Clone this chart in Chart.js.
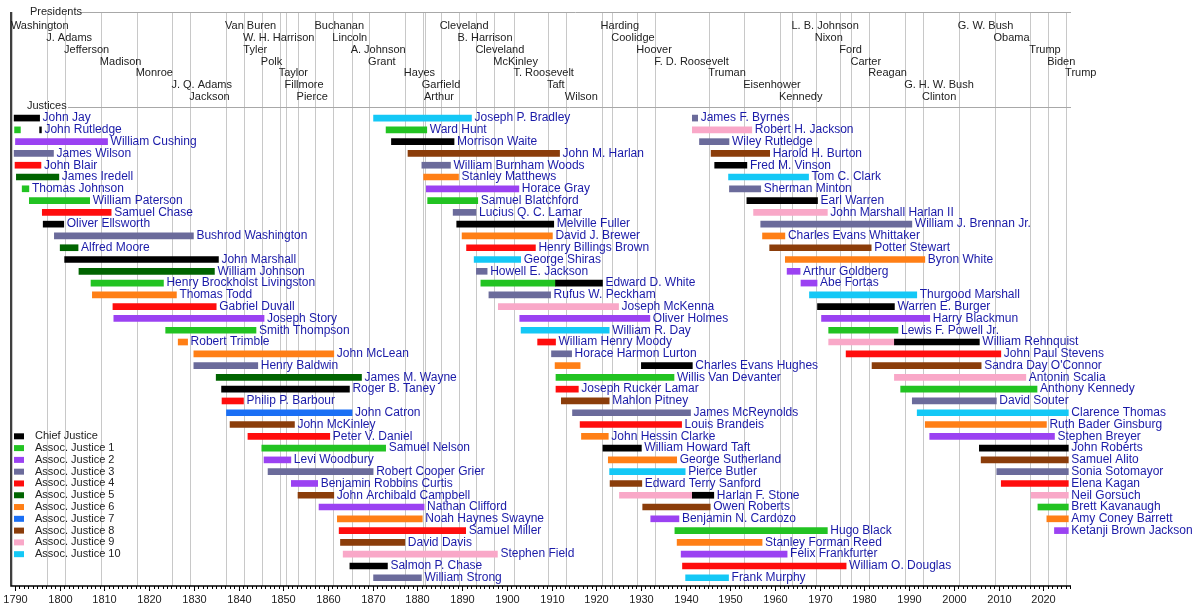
<!DOCTYPE html>
<html>
<head>
<meta charset="utf-8">
<script src="https://cdn.jsdelivr.net/npm/chart.js@4"></script>
<style>
  html, body { margin:0; padding:0; background:#fff; }
  #wrap { width:1200px; height:606px; }
</style>
</head>
<body>
<div id="wrap"><canvas id="chart" width="1200" height="606"></canvas></div>
<script>
// Supreme Court justices timeline
// seat: 0 = chief, 1..10 = assoc. justice seat

const seatLabels = ["Chief Justice","Assoc. Justice 1","Assoc. Justice 2","Assoc. Justice 3","Assoc. Justice 4",
  "Assoc. Justice 5","Assoc. Justice 6","Assoc. Justice 7","Assoc. Justice 8","Assoc. Justice 9","Assoc. Justice 10"];
const seatColors = ["#000000","#22c322","#9b42f2","#6b6b9b","#ff0d0d","#006400","#ff7f16","#1a6ff5","#8b3d0a","#f9a8c8","#14c8f6"];

const justiceNames = [
  "John Jay","John Rutledge","William Cushing","James Wilson","John Blair","James Iredell","Thomas Johnson","William Paterson",
  "Samuel Chase","Oliver Ellsworth","Bushrod Washington","Alfred Moore","John Marshall","William Johnson",
  "Henry Brockholst Livingston","Thomas Todd","Gabriel Duvall","Joseph Story","Smith Thompson","Robert Trimble",
  "John McLean","Henry Baldwin","James M. Wayne","Roger B. Taney","Philip P. Barbour","John Catron","John McKinley",
  "Peter V. Daniel","Samuel Nelson","Levi Woodbury","Robert Cooper Grier","Benjamin Robbins Curtis",
  "John Archibald Campbell","Nathan Clifford","Noah Haynes Swayne","Samuel Miller","David Davis","Stephen Field",
  "Salmon P. Chase","William Strong",
  "Joseph P. Bradley","Ward Hunt","Morrison Waite","John M. Harlan","William Burnham Woods","Stanley Matthews",
  "Horace Gray","Samuel Blatchford","Lucius Q. C. Lamar","Melville Fuller","David J. Brewer","Henry Billings Brown",
  "George Shiras","Howell E. Jackson","Edward D. White","Rufus W. Peckham","Joseph McKenna","Oliver Holmes",
  "William R. Day","William Henry Moody","Horace Harmon Lurton","Charles Evans Hughes","Willis Van Devanter",
  "Joseph Rucker Lamar","Mahlon Pitney","James McReynolds","Louis Brandeis","John Hessin Clarke",
  "William Howard Taft","George Sutherland","Pierce Butler","Edward Terry Sanford","Harlan F. Stone","Owen Roberts",
  "Benjamin N. Cardozo","Hugo Black","Stanley Forman Reed","Felix Frankfurter","William O. Douglas","Frank Murphy",
  "James F. Byrnes","Robert H. Jackson","Wiley Rutledge","Harold H. Burton","Fred M. Vinson","Tom C. Clark",
  "Sherman Minton","Earl Warren","John Marshall Harlan II","William J. Brennan Jr.","Charles Evans Whittaker",
  "Potter Stewart","Byron White","Arthur Goldberg","Abe Fortas","Thurgood Marshall","Warren E. Burger",
  "Harry Blackmun","Lewis F. Powell Jr.","William Rehnquist","John Paul Stevens","Sandra Day O'Connor",
  "Antonin Scalia","Anthony Kennedy","David Souter","Clarence Thomas","Ruth Bader Ginsburg","Stephen Breyer",
  "John Roberts","Samuel Alito","Sonia Sotomayor","Elena Kagan","Neil Gorsuch","Brett Kavanaugh",
  "Amy Coney Barrett","Ketanji Brown Jackson"
];
const justiceSeats = [
  0,1,2,3,4,5,1,1,4,0,3,5,0,5,1,6,4,2,1,6,6,3,5,0,4,7,8,4,1,2,3,2,8,2,6,4,8,9,0,3,
  10,1,0,8,3,6,2,1,3,0,6,4,10,3,1,3,9,2,10,4,3,6,1,4,8,3,4,6,0,6,10,8,9,8,2,1,6,2,4,10,
  3,9,3,8,0,10,3,0,9,3,6,8,6,2,2,10,0,2,1,9,4,8,9,1,3,10,6,2,0,8,3,4,9,1,6,2
];
const termStart = [
  1789.8,1789.9,1790.1,1789.8,1790.0,1790.3,1791.6,1793.2,1796.1,1796.3,1798.8,1800.1,1801.1,1804.3,1807.0,1807.3,
  1811.9,1812.1,1823.7,1826.5,1830.0,1830.0,1835.0,1836.2,1836.3,1837.3,1838.1,1842.1,1845.2,1845.7,1846.6,1851.8,
  1853.3,1858.0,1862.1,1862.5,1862.8,1863.4,1864.9,1870.2,
  1870.2,1873.0,1874.2,1877.9,1881.0,1881.4,1882.0,1882.3,1888.0,1888.8,1890.0,1891.0,1892.7,1893.2,1894.2,1896.0,
  1898.1,1902.9,1903.2,1906.9,1910.0,1910.8,1911.0,1911.0,1912.2,1914.7,1916.4,1916.7,1921.5,1922.7,1923.0,1923.1,
  1925.2,1930.4,1932.2,1937.6,1938.1,1939.0,1939.3,1940.0,
  1941.5,1941.5,1943.1,1945.7,1946.5,1949.6,1949.8,1953.7,1955.2,1956.8,1957.2,1958.8,1962.3,1962.7,1965.8,1967.7,
  1969.5,1970.4,1972.0,1972.0,1975.9,1981.7,1986.7,1988.1,1990.7,1991.8,1993.6,1994.6,2005.7,2006.1,2009.6,2010.6,
  2017.3,2018.8,2020.8,2022.5
];
const termEnd = [
  1795.5,1791.2,1810.7,1798.6,1795.8,1799.8,1793.1,1806.7,1811.5,1800.9,1829.9,1804.1,1835.5,1834.6,1823.2,1826.1,
  1835.0,1845.7,1843.9,1828.6,1861.3,1844.3,1867.5,1864.8,1841.1,1865.4,1852.5,1860.4,1872.9,1851.7,1870.1,1857.7,
  1861.3,1881.5,1881.1,1890.8,1877.2,1897.9,1873.3,1880.9,
  1892.1,1882.1,1888.2,1911.8,1887.4,1889.2,1902.7,1893.5,1893.1,1910.5,1910.2,1906.4,1903.1,1895.6,1910.9,1909.8,
  1925.0,1932.0,1922.9,1910.9,1914.5,1916.4,1937.4,1916.0,1922.9,1941.1,1939.1,1922.7,1930.1,1938.0,1939.9,1930.2,
  1941.5,1945.5,1938.5,1971.7,1957.1,1962.7,1975.9,1949.6,
  1942.7,1954.8,1949.7,1958.8,1953.7,1967.5,1956.8,1969.5,1971.7,1990.6,1962.2,1981.5,1993.5,1965.6,1969.4,1991.7,
  1986.7,1994.6,1987.5,1986.7,2010.5,2006.1,2016.1,2018.6,2009.5,2025.6,2020.7,2022.5,2025.6,2025.6,2025.6,2025.6,
  2025.6,2025.6,2025.6,2025.6
];

// later terms as chief justice for those promoted
const chiefNames = ["John Rutledge","Edward D. White","Charles Evans Hughes","Harlan F. Stone","William Rehnquist"];
const chiefStart = [1795.5,1910.9,1930.1,1941.5,1986.7];
const chiefEnd   = [1795.9,1921.4,1941.5,1946.3,2005.7];

const presidentNames = ["Washington","J. Adams","Jefferson","Madison","Monroe","J. Q. Adams","Jackson",
  "Van Buren","W. H. Harrison","Tyler","Polk","Taylor","Fillmore","Pierce",
  "Buchanan","Lincoln","A. Johnson","Grant","Hayes","Garfield","Arthur",
  "Cleveland","B. Harrison","Cleveland","McKinley","T. Roosevelt","Taft","Wilson",
  "Harding","Coolidge","Hoover","F. D. Roosevelt","Truman","Eisenhower","Kennedy",
  "L. B. Johnson","Nixon","Ford","Carter","Reagan","G. H. W. Bush","Clinton",
  "G. W. Bush","Obama","Trump","Biden","Trump"];
const presidentStart = [1789.3,1797.2,1801.2,1809.2,1817.2,1825.2,1829.2,1837.2,1841.2,1841.3,1845.2,1849.2,1850.5,1853.2,
  1857.2,1861.2,1865.3,1869.2,1877.2,1881.2,1881.7,1885.2,1889.2,1893.2,1897.2,1901.7,1909.2,1913.2,
  1921.2,1923.6,1929.2,1933.2,1945.3,1953.1,1961.1,1963.9,1969.1,1974.6,1977.1,1981.1,1989.1,1993.1,
  2001.1,2009.1,2017.1,2021.1,2025.1];

const ROWS = 40;
const labelColor = "#1a1aa8";

// one dataset per seat colour
const datasets = seatLabels.map((lab, s) => ({
  label: lab, backgroundColor: seatColors[s], data: [],
  barThickness: 6, borderWidth: 0, grouped: false
}));
justiceNames.forEach((n, i) => {
  datasets[justiceSeats[i]].data.push({ x: [termStart[i], termEnd[i]], y: i % ROWS });
});
chiefNames.forEach((n, k) => {
  const i = justiceNames.indexOf(n);
  datasets[0].data.push({ x: [chiefStart[k], chiefEnd[k]], y: i % ROWS });
});

const decorPlugin = {
  id: "decor",
  beforeDatasetsDraw(chart){
    const { ctx, chartArea: a, scales: { x, y } } = chart;
    ctx.save();
    ctx.strokeStyle = "#c8c8c8"; ctx.lineWidth = 1;
    for (const yr of presidentStart){
      const px = Math.round(x.getPixelForValue(yr)) + 0.5;
      ctx.beginPath(); ctx.moveTo(px, a.top); ctx.lineTo(px, a.bottom); ctx.stroke();
    }
    ctx.strokeStyle = "#a8a8a8";
    ctx.beginPath(); ctx.moveTo(80, a.top + 0.5); ctx.lineTo(a.right, a.top + 0.5); ctx.stroke();
    const hy = Math.round(y.getPixelForValue(-0.93)) + 0.5;
    ctx.beginPath(); ctx.moveTo(68, hy); ctx.lineTo(a.right, hy); ctx.stroke();

    ctx.fillStyle = "#222"; ctx.font = "11px 'Liberation Sans', Arial, sans-serif";
    ctx.textBaseline = "middle"; ctx.textAlign = "left";
    ctx.fillText("Presidents", 30, a.top);
    ctx.fillText("Justices", 27, y.getPixelForValue(-1.0));
    presidentNames.forEach((p, i) => {
      ctx.fillText(p, x.getPixelForValue(presidentStart[i]) - 1, y.getPixelForValue(-7.8 + (i % 7)));
    });

    // legend
    seatLabels.forEach((lab, s) => {
      const py = y.getPixelForValue(27 + s);
      ctx.fillStyle = seatColors[s];
      ctx.fillRect(14, py - 3, 10, 6);
      ctx.fillStyle = "#222";
      ctx.fillText(lab, 35, py);
    });

    // axes
    ctx.strokeStyle = "#000"; ctx.lineWidth = 1.5;
    ctx.beginPath(); ctx.moveTo(a.left, a.top); ctx.lineTo(a.left, a.bottom); ctx.lineTo(a.right, a.bottom); ctx.stroke();
    ctx.lineWidth = 1;
    for (let yr = Math.ceil(x.min); yr <= x.max; yr++){
      const px = Math.round(x.getPixelForValue(yr)) + 0.5;
      const len = yr % 10 === 0 ? 5 : 3;
      ctx.beginPath(); ctx.moveTo(px, a.bottom); ctx.lineTo(px, a.bottom + len); ctx.stroke();
      if (yr % 10 === 0){
        ctx.fillStyle = "#222"; ctx.textAlign = "center";
        ctx.fillText(String(yr), px, a.bottom + 14);
      }
    }
    ctx.restore();
  },
  afterDatasetsDraw(chart){
    const { ctx, scales: { x, y } } = chart;
    ctx.save();
    ctx.fillStyle = labelColor;
    ctx.font = "12px 'Liberation Sans', Arial, sans-serif";
    ctx.textBaseline = "middle"; ctx.textAlign = "left";
    justiceNames.forEach((n, i) => {
      let end = termEnd[i];
      const k = chiefNames.indexOf(n);
      if (k >= 0) end = Math.max(end, chiefEnd[k]);
      ctx.fillText(n, x.getPixelForValue(end) + 3, y.getPixelForValue(i % ROWS));
    });
    ctx.restore();
  }
};

new Chart(document.getElementById("chart"), {
  type: "bar",
  data: { datasets },
  options: {
    indexAxis: "y",
    responsive: false,
    animation: false,
    layout: { padding: { left: 11, top: 12, right: 129, bottom: 20 } },
    scales: {
      x: { type: "linear", min: 1789.1, max: 2026.2, display: false },
      y: { type: "linear", min: -9, max: 39.7, reverse: true, offset: false, display: false }
    },
    plugins: { legend: { display: false }, tooltip: { enabled: false } }
  },
  plugins: [decorPlugin]
});
</script>
</body>
</html>
